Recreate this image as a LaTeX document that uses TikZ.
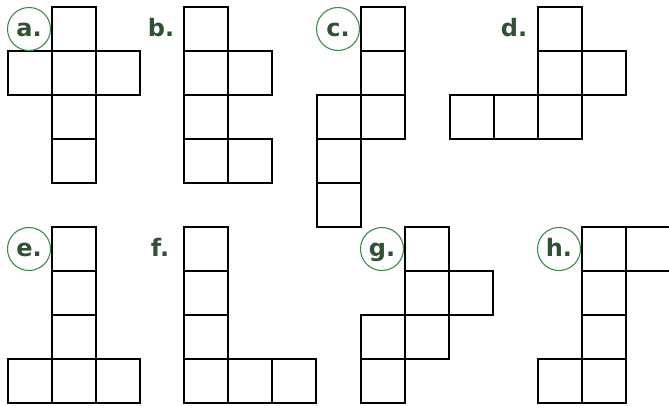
\documentclass[tikz,border=0pt]{standalone}
\usepackage{fontspec}
\setmainfont{DejaVu Sans}
\definecolor{lbl}{HTML}{2F5233}
\definecolor{ring}{HTML}{3A8A48}
\tikzset{
  cell/.style={draw=black, line width=2pt},
  lab/.style={text=lbl, font=\bfseries\fontsize{24}{24}\selectfont, inner sep=0pt, anchor=base},
  ringed/.style={draw=ring, line width=1.1pt, circle, minimum size=43pt}
}
\newcommand{\cellat}[2]{\draw[cell] (#1,#2) rectangle ++(44,44);}
\begin{document}
\begin{tikzpicture}[x=1pt,y=-1pt]
\useasboundingbox (0,0) rectangle (669,405);
\clip (0,0) rectangle (669,405);
% a
\foreach \x/\y in {52/7, 8/51, 52/51, 96/51, 52/95, 52/139} {\cellat{\x}{\y}}
% b
\foreach \x/\y in {184/7, 184/51, 228/51, 184/95, 184/139, 228/139} {\cellat{\x}{\y}}
% c
\foreach \x/\y in {361/7, 361/51, 317/95, 361/95, 317/139, 317/183} {\cellat{\x}{\y}}
% d
\foreach \x/\y in {538/7, 538/51, 582/51, 450/95, 494/95, 538/95} {\cellat{\x}{\y}}
% e
\foreach \x/\y in {52/227, 52/271, 52/315, 8/359, 52/359, 96/359} {\cellat{\x}{\y}}
% f
\foreach \x/\y in {184/227, 184/271, 184/315, 184/359, 228/359, 272/359} {\cellat{\x}{\y}}
% g
\foreach \x/\y in {405/227, 405/271, 449/271, 361/315, 405/315, 361/359} {\cellat{\x}{\y}}
% h
\foreach \x/\y in {582/227, 626/227, 582/271, 582/315, 538/359, 582/359} {\cellat{\x}{\y}}
% labels
\node[ringed] (ca) at (29,29) {};
\node[lab] (la) at (29,36.5) {a.};
\node[lab] (lb) at (161,36.5) {b.};
\node[ringed] (cc) at (338,29) {};
\node[lab] (lc) at (338,36.5) {c.};
\node[lab] (ld) at (514,36.5) {d.};
\node[ringed] (ce) at (29,249) {};
\node[lab] (le) at (29,256.5) {e.};
\node[lab] (lf) at (160,256.5) {f.};
\node[ringed] (cg) at (382,249) {};
\node[lab] (lg) at (382,256.5) {g.};
\node[ringed] (ch) at (559,249) {};
\node[lab] (lh) at (559,256.5) {h.};
\end{tikzpicture}
\end{document}
